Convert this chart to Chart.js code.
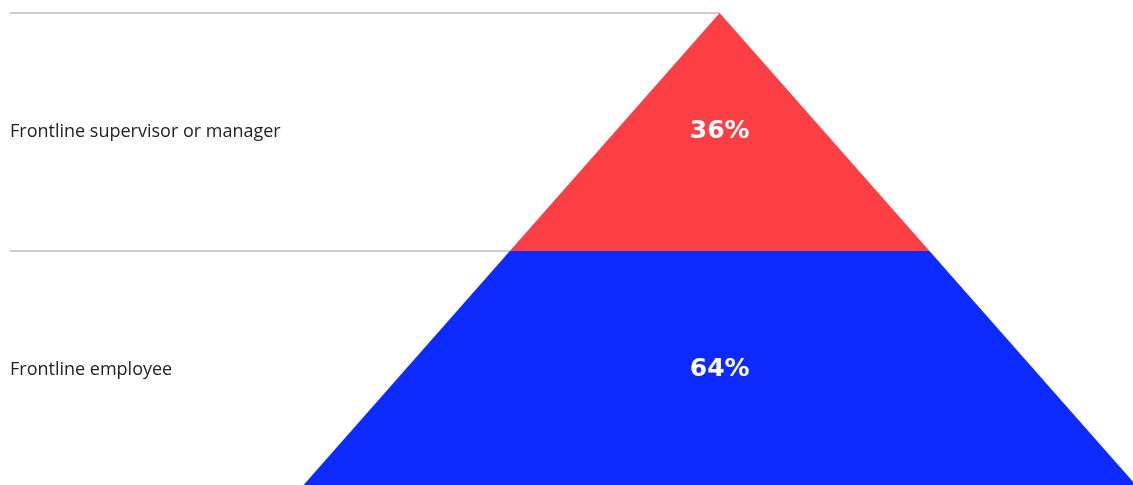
<!DOCTYPE html>
<html>
<head>
<meta charset="utf-8">
<script src="https://cdn.jsdelivr.net/npm/chart.js@4.4.1/dist/chart.umd.min.js"></script>
<style>
  html, body { margin: 0; padding: 0; background: #fff; overflow: hidden; }
  #wrap { position: relative; width: 1133px; height: 489px; }
</style>
</head>
<body>
<div id="wrap"><canvas id="pyramid"></canvas></div>
<script>
// levels from top of the pyramid to the bottom
const levels = ["Frontline supervisor or manager", "Frontline employee"];
const shares = [36, 64];
// relative half width of each level at its lower edge
const levelWidth = [1, 2];
const levelColors = ["#fc3f44", "#0e2bff"];

// draws each level as a trapezoid instead of a flat bar, plus its row label
const pyramidPlugin = {
  id: "pyramid",
  afterDatasetsDraw(chart) {
    const ctx = chart.ctx;
    const xs = chart.scales.x;
    const ys = chart.scales.y;
    const area = chart.chartArea;
    const bars = chart.getDatasetMeta(0).data;
    const mid = xs.getPixelForValue(0);
    let prevHalf = 0;

    ctx.save();
    bars.forEach((bar, i) => {
      const top = bar.y - bar.height / 2;
      const bottom = bar.y + bar.height / 2;
      const half = xs.getPixelForValue(levelWidth[i]) - mid;

      // grey rule from the left edge to the pyramid side
      ctx.strokeStyle = "#bdbdbd";
      ctx.lineWidth = 1.5;
      ctx.beginPath();
      ctx.moveTo(area.left + 10, top);
      ctx.lineTo(mid - prevHalf, top);
      ctx.stroke();

      ctx.fillStyle = levelColors[i];
      ctx.beginPath();
      ctx.moveTo(mid - prevHalf, top);
      ctx.lineTo(mid + prevHalf, top);
      ctx.lineTo(mid + half, bottom);
      ctx.lineTo(mid - half, bottom);
      ctx.closePath();
      ctx.fill();

      ctx.textBaseline = "middle";

      ctx.fillStyle = "#fff";
      ctx.font = "bold 25px 'DejaVu Sans'";
      ctx.textAlign = "center";
      ctx.fillText(shares[i] + "%", mid, bar.y - 1);

      ctx.fillStyle = "#222";
      ctx.font = "18px 'Open Sans'";
      ctx.textAlign = "left";
      ctx.fillText(ys.getLabelForValue(i), area.left + 10, ys.getPixelForValue(i));

      prevHalf = half;
    });
    ctx.restore();
  }
};

new Chart(document.getElementById("pyramid"), {
  type: "bar",
  data: {
    labels: levels,
    datasets: [{
      data: levelWidth.map(w => [-w, w]),
      backgroundColor: "rgba(0,0,0,0)",
      categoryPercentage: 1,
      barPercentage: 1
    }]
  },
  options: {
    indexAxis: "y",
    responsive: true,
    maintainAspectRatio: false,
    animation: false,
    layout: { padding: { top: 13, left: 0, right: 0, bottom: 0 } },
    plugins: { legend: { display: false }, tooltip: { enabled: false } },
    scales: {
      x: { display: false, min: -3.43, max: 1.97 },
      y: { display: false }
    }
  },
  plugins: [pyramidPlugin]
});
</script>
</body>
</html>
